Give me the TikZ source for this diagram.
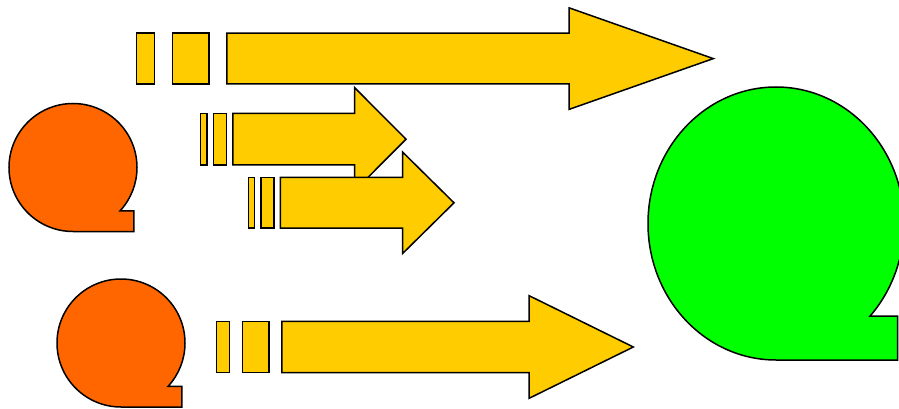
\documentclass[tikz,border=0pt]{standalone}
\usepackage{tikz}

\definecolor{tapeorange}{HTML}{FF6600}
\definecolor{tapegreen}{HTML}{00FF00}
\definecolor{arrowyellow}{HTML}{FFCC00}

% tape shape: centre x, centre y, x radius, y radius
\newcommand{\tapeshape}[5][]{%
  \filldraw[#1] (#2,{#3+#5}) arc[start angle=90, end angle=402.7, x radius=#4, y radius=#5]
    -- ({#2+0.95*#4},{#3+0.678*#5}) -- ({#2+0.95*#4},{#3+#5}) -- cycle;}

% striped arrow: left x, centre y, width, head height
\newcommand{\stripedarrow}[5][]{%
  \filldraw[#1] (#2,{#3-#5/4}) rectangle ({#2+#4/32},{#3+#5/4});
  \filldraw[#1] ({#2+2*#4/32},{#3-#5/4}) rectangle ({#2+4*#4/32},{#3+#5/4});
  \filldraw[#1] ({#2+5*#4/32},{#3-#5/4}) -- ({#2+3*#4/4},{#3-#5/4})
    -- ({#2+3*#4/4},{#3-#5/2}) -- ({#2+#4},#3) -- ({#2+3*#4/4},{#3+#5/2})
    -- ({#2+3*#4/4},{#3+#5/4}) -- ({#2+5*#4/32},{#3+#5/4}) -- cycle;}

\begin{document}
\begin{tikzpicture}[
    x=1pt, y=-1pt,
    outline/.style={draw=black, line width=1.5pt, line join=miter},
    tape/.style={outline, fill=#1},
    stripe/.style={outline, fill=arrowyellow}
]
\useasboundingbox (0,0) rectangle (899,409);

% Orange tapes on the left
\tapeshape[tape=tapeorange]{73}{167.5}{64}{64}
\tapeshape[tape=tapeorange]{121}{343}{64}{64}

% Striped arrows
\stripedarrow[stripe]{136.7}{58.6}{576.6}{101.5}
\stripedarrow[stripe]{200.7}{139.2}{205.3}{103}
\stripedarrow[stripe]{248.3}{202.8}{205.7}{101.5}
\stripedarrow[stripe]{216.7}{347}{416.6}{102.6}

% Green tape on the right
\tapeshape[tape=tapegreen]{776}{223.5}{128}{136.5}

\end{tikzpicture}
\end{document}
